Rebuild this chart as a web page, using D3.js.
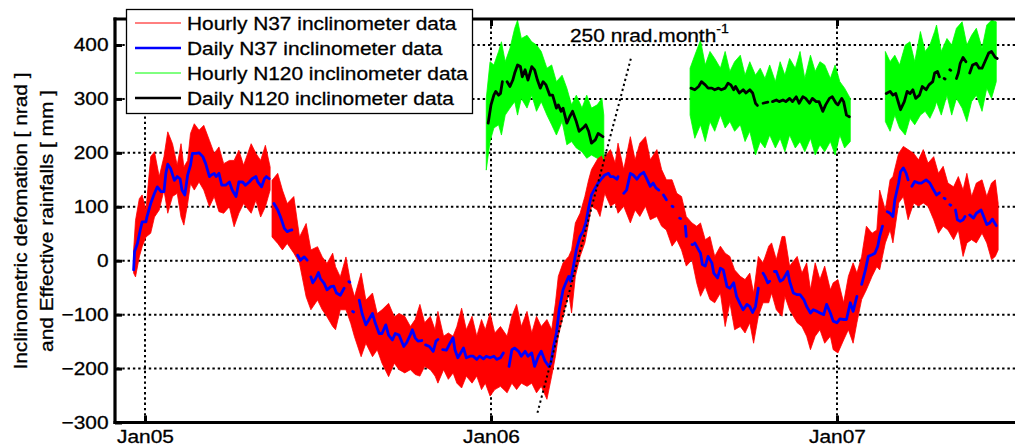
<!DOCTYPE html>
<html><head><meta charset="utf-8">
<script src="https://cdn.jsdelivr.net/npm/d3@7"></script>
<style>
body{margin:0;background:#fff}
svg text{font-family:"Liberation Sans",Arial,Helvetica,sans-serif;fill:#000;stroke:#000;stroke-width:0.3px}
</style>
</head><body>
<svg id="chart" width="1015" height="448"></svg>
<script>
// ---------------- DATA (day = days since 2005-01-01) ----------------
const yTicks = [-300, -200, -100, 0, 100, 200, 300, 400];
const xTickDates = ["2005-01-01", "2006-01-01", "2007-01-01"];
const xTickLabels = ["Jan05", "Jan06", "Jan07"];
const legendLabels = ["Hourly N37 inclinometer data", "Daily N37 inclinometer data",
                      "Hourly N120 inclinometer data", "Daily N120 inclinometer data"];
const yLabelLines = ["Inclinometric defomation [ nrad ]", "and Effective rainfalls [ mm ]"];
const trendLabel = "250 nrad.month";
const trendLabelSup = "-1";

// Hourly N37: [day, low, high] envelope of the hourly signal (null = gap)
const hourlyN37 = [
[-12,-23,20],[-10,-30,75],[-6,7,115],[-3,26,122],[1,44,94],[6,51,193],[10,81,202],[15,94,156],
[20,131,193],[24,88,239],[29,119,217],[34,125,177],[38,81,217],[41,66,174],[45,106,186],[48,143,236],
[52,131,254],[57,146,242],[62,131,251],[68,100,223],[73,119,199],[78,91,211],[83,88,180],[89,100,186],
[94,63,186],[99,88,205],[104,106,177],[112,88,217],[117,112,199],[122,81,186],[127,100,214],[132,131,174],
null,
[134,44,149],[140,32,162],[145,20,131],[150,32,106],[157,14,119],[163,-5,44],[170,-67,69],[175,-91,20],
[182,-73,26],[187,-91,7],[192,-104,-5],[198,-122,14],[201,-128,-11],[206,-91,-30],[212,-91,7],[217,-116,-42],
[221,-141,-67],[228,-178,-23],[233,-153,-73],[240,-178,-60],[245,-165,-98],[250,-190,-91],[257,-215,-79],
[263,-190,-104],[268,-202,-98],[274,-208,-103],[280,-202,-122],[285,-211,-109],[290,-214,-81],[295,-196,-115],
[301,-202,-103],[306,-214,-128],[309,-227,-94],[315,-202,-140],[320,-220,-134],[325,-208,-140],[329,-227,-122],
[334,-236,-88],[339,-214,-128],[345,-227,-103],[350,-214,-140],[355,-239,-109],[359,-227,-128],[364,-251,-97],
[369,-239,-134],[375,-233,-122],[382,-245,-140],[387,-227,-103],[392,-239,-81],[397,-227,-122],[403,-233,-94],
[408,-227,-134],[413,-245,-103],[418,-233,-122],[424,-257,-109],[429,-214,-128],[433,-177,-78],[436,-140,-29],
[441,-103,-4],[447,-60,8],[450,-97,20],[454,-29,70],[459,8,88],[464,33,119],[468,70,150],[471,101,169],
[477,94,187],[480,82,199],[485,125,193],[491,101,206],[496,107,181],[499,88,218],[505,101,169],[512,70,230],
[517,94,187],[522,82,218],[528,101,230],[533,76,187],[540,82,206],[545,64,169],[550,57,150],[556,27,150],
[561,39,125],[566,20,119],[571,-10,82],[577,2,70],[582,-41,64],[586,-66,70],[591,-48,39],[596,-72,45],
[601,-78,8],[607,-60,27],[612,-122,14],[617,-78,8],[622,-128,-17],[628,-122,-29],[633,-134,-35],[638,-115,-23],
[642,-153,-60],[647,-103,8],[652,-78,-4],[658,-78,27],[661,-60,33],[666,-91,2],[672,-103,45],[675,-66,45],
[680,-91,-10],[688,-115,8],[693,-122,-23],[698,-140,-4],[702,-165,-54],[707,-140,-4],[712,-128,-35],[717,-153,-10],
[723,-140,-54],[726,-165,-41],[731,-171,-35],[737,-147,-78],[742,-128,-29],[747,-153,-4],[751,-115,-23],[756,-72,8],
[761,-54,64],[767,-29,51],[772,-11,57],[775,-17,131],[781,33,94],[786,57,150],[789,33,156],[795,107,199],
[800,119,212],[805,76,206],[811,107,199],[816,101,187],[821,107,206],[826,101,181],[832,76,193],[837,51,162],
[842,64,175],[847,57,144],[853,39,137],[858,57,156],[863,8,131],[867,33,162],[872,39,119],[877,33,144],
[883,51,150],[888,33,119],[893,2,144],[897,8,150],[900,20,107]
];

// Daily N37: [day, value] (null = gap)
const dailyN37 = [
[-12,-17],[-11,17],[-8,32],[-5,57],[-3,72],[1,72],[2,81],[6,106],[10,125],[13,137],[17,128],[20,128],[22,162],
[24,179],[27,171],[31,149],[34,156],[37,152],[39,131],[42,122],[45,159],[48,177],[50,199],[54,199],[57,200],
[61,193],[64,180],[68,156],[70,159],[73,162],[75,156],[78,162],[81,140],[85,140],[89,146],[92,131],[96,119],
[99,146],[103,146],[106,140],[110,146],[113,152],[117,156],[119,146],[123,137],[126,152],[128,156],[131,152],
null,[136,106],[140,94],[143,81],[147,60],[150,54],[154,57],[155,57],
null,[161,10],[164,1],[168,7],[171,1],
null,[175,-30],[177,-41],[180,-33],[183,-22],[185,-33],[189,-42],[192,-54],[196,-48],[199,-47],[202,-60],[206,-64],[210,-51],
null,[215,-39],[216,-40],
null,[219,-94],[220,-95],
null,[226,-73],[229,-98],[233,-119],[236,-110],[240,-98],[243,-116],[247,-135],[250,-135],[254,-119],[257,-138],
[261,-147],[264,-135],[268,-138],[273,-159],[276,-152],[280,-137],[282,-128],[285,-143],[288,-149],[292,-148],
null,[296,-156],[300,-159],[304,-168],[307,-149],[309,-146],
null,[314,-165],[318,-166],[322,-152],[325,-143],[327,-165],[330,-180],[333,-171],[336,-162],[339,-180],[343,-177],
[346,-177],[350,-183],[353,-177],[357,-182],[360,-177],[364,-180],[368,-177],[371,-183],[375,-180],[378,-171],
null,[384,-196],[387,-165],[390,-162],[394,-168],[397,-177],[401,-168],[404,-177],[408,-171],[411,-196],[415,-177],
[418,-168],[422,-186],[426,-196],[428,-190],[431,-159],[434,-134],[437,-91],[441,-54],[444,-41],[447,-29],[449,-38],
[452,-10],[455,20],[459,45],[462,54],[465,70],[468,98],[471,122],[475,135],[478,144],[482,153],[485,159],[489,162],
[491,156],[494,156],[498,151],[499,156],
null,[505,125],[508,131],[512,162],[515,159],[519,151],[522,159],[526,164],[529,153],[533,138],[536,144],[539,135],[542,131],
null,[547,122],[550,113],
null,[556,101],[557,100],
null,[564,79],[565,78],
null,[570,64],[571,45],
null,[577,30],[578,30],
null,[580,33],[584,20],[586,14],[588,-7],[591,-10],[594,8],[598,-4],[600,-23],[604,-32],[607,-14],[610,-17],[614,-48],
[617,-51],[621,-41],[624,-66],[628,-81],[631,-91],[635,-81],[638,-85],[641,-96],[644,-85],[647,-51],
null,[652,-23],[654,-29],[657,-41],[659,-38],
null,[664,-20],[666,-20],[670,-38],[673,-35],[678,-20],[680,-38],[684,-60],[688,-63],[691,-63],[695,-72],[698,-85],
[702,-97],[705,-91],[709,-94],[712,-97],[716,-100],[719,-81],[723,-97],[726,-112],[730,-115],[733,-108],[737,-109],
[740,-109],[744,-78],[747,-94],[751,-66],
null,[756,-44],[760,-17],[763,8],[767,11],[770,14],[773,27],[775,45],[778,64],
null,[783,91],[786,88],[789,82],[791,113],[795,144],[797,165],[800,172],[803,162],[805,150],
null,[809,138],[812,147],[816,144],[819,144],[824,150],[828,144],[832,131],[835,122],[838,126],
null,[843,116],[844,115],
null,[849,104],[850,103],
null,[855,94],[857,76],[860,73],[863,76],[865,82],
null,[870,85],[874,79],[877,88],[882,94],[884,85],[888,67],[891,70],[894,77],[898,65]
];

// Hourly N120: [day, low, high]
const hourlyN120 = [
[360,168,301],[364,221,369],[368,246,363],[373,252,388],[376,233,406],[380,270,369],[385,283,394],[390,295,431],
[393,270,446],[397,301,412],[403,283,418],[408,307,406],[413,277,400],[418,295,388],[424,270,357],[429,252,363],
[434,233,332],[440,258,344],[445,215,320],[450,221,289],[455,209,307],[461,202,283],[466,190,307],[471,196,283],
[477,190,289],[482,196,301],[484,187,270],
null,
[575,270,357],[580,227,381],[586,252,409],[591,221,363],[596,258,388],[601,240,375],[607,270,357],[612,246,388],
[617,258,351],[622,240,369],[628,252,381],[633,221,344],[638,240,369],[644,196,344],[649,221,357],[654,209,338],
[659,233,363],[665,209,332],[670,227,369],[675,202,344],[680,233,375],[686,209,357],[691,221,388],[696,202,338],
[702,227,381],[707,196,351],[712,215,369],[717,202,363],[723,221,338],[728,196,363],[733,233,332],[738,209,320],
[744,221,301],
null,
[781,258,388],[786,240,369],[791,270,381],[796,246,363],[802,233,400],[807,264,406],[812,252,369],[818,270,425],
[823,277,388],[828,264,400],[833,283,425],[835,295,437],[840,270,388],[846,307,412],[851,270,400],[856,301,431],
[862,283,443],[867,258,400],[872,295,418],[877,307,431],[883,277,394],[888,320,437],[893,301,446],[898,332,443]
];

// Daily N120: [day, value]
const dailyN120 = [
[362,255],[365,289],[368,307],[370,314],[373,307],[375,310],[377,332],
null,[382,332],[385,323],[388,335],[390,348],[393,363],[396,360],[398,341],[401,354],[404,335],[408,360],[411,354],
[414,335],[417,320],[420,332],[423,326],[427,307],[430,307],[434,283],[436,289],[439,277],[441,283],[445,255],
[448,267],[451,277],[455,258],[458,240],[462,246],[465,252],[468,240],[471,218],[475,224],[478,236],[483,230],
null,[576,320],[580,317],[584,323],[587,332],[591,326],[594,320],[598,320],[601,317],[605,320],[608,317],[612,320],
[615,329],[618,326],[621,317],[623,323],[627,311],[631,317],[634,311],[638,317],[641,311],[644,292],[646,288],
null,[652,292],[657,294],
null,[662,295],[666,298],[669,295],[673,298],[676,295],[680,301],[683,295],[687,304],[690,292],[694,304],[697,301],
[701,292],[704,301],[708,295],[711,295],[715,277],[718,289],[722,301],[725,304],[729,292],[731,289],[735,301],
[737,295],[740,270],[743,267],
null,[782,310],[786,314],[789,307],[792,310],[795,292],[797,280],[801,295],[804,314],[807,310],[810,317],[813,301],
[817,307],[820,323],[824,317],[827,326],[831,332],[833,348],[836,351],[838,341],
null,[843,338],[844,337],
null,[849,354],[850,353],
null,[856,338],[858,348],[860,366],[863,377],[866,369],
null,[870,348],[873,363],[877,366],[880,357],[883,357],[886,369],[890,385],[893,388],[897,377],[899,375]
];

// Dotted trend line (250 nrad/month label): [day, value]
const trendLine = [[414,-282],[513,378]];

// ---------------- DRAWING ----------------
const T0 = Date.UTC(2005,0,1);
const toDate = d => new Date(T0 + d*86400000);
const parse = d3.utcParse("%Y-%m-%d");

const L = 114, R = 1030, T = 19, B = 422.5;
const SX = 1.13; // horizontal glyph stretch
const FS = 18.5;

const svg = d3.select("#chart");
const x = d3.scaleUtc().domain([toDate(0), toDate(730)]).range([145, 837]);
const y = d3.scaleLinear().domain([-300, 400]).range([422.5, 45]);

svg.append("defs").append("clipPath").attr("id","clip")
  .append("rect").attr("x",L).attr("y",T).attr("width",R-L).attr("height",B-T);

// grid
const grid = svg.append("g").attr("stroke","#000").attr("stroke-width",2).attr("stroke-dasharray","2.4,2.9");
grid.selectAll("line.h").data(yTicks.filter(v=>v>-300)).join("line").attr("class","h")
  .attr("x1",L+3).attr("x2",R).attr("y1",d=>y(d)).attr("y2",d=>y(d));
grid.selectAll("line.v").data(xTickDates.map(parse)).join("line").attr("class","v")
  .attr("y1",T+2).attr("y2",B).attr("x1",d=>x(d)).attr("x2",d=>x(d));

const plot = svg.append("g").attr("clip-path","url(#clip)");

const band = d3.area().defined(d=>d!==null)
  .x(d=>x(toDate(d[0]))).y0(d=>y(d[1])).y1(d=>y(d[2]));
const line = d3.line().defined(d=>d!==null)
  .x(d=>x(toDate(d[0]))).y(d=>y(d[1]));

plot.append("path").datum(hourlyN37).attr("d",band).attr("fill","#ff0000").attr("stroke","#ff0000").attr("stroke-width",0.8);
plot.append("path").datum(dailyN37).attr("d",line).attr("fill","none").attr("stroke","#0000ff")
  .attr("stroke-width",2.8).attr("stroke-linejoin","round").attr("stroke-linecap","round");
plot.append("path").datum(hourlyN120).attr("d",band).attr("fill","#00ff00").attr("stroke","#00ff00").attr("stroke-width",0.8);
plot.append("path").datum(dailyN120).attr("d",line).attr("fill","none").attr("stroke","#000")
  .attr("stroke-width",2.8).attr("stroke-linejoin","round").attr("stroke-linecap","round");
plot.append("path").datum(trendLine).attr("d",line).attr("fill","none").attr("stroke","#000")
  .attr("stroke-width",2).attr("stroke-dasharray","2.2,3");

// axes
const axL = svg.append("g").attr("transform",`translate(${L+1},0)`)
  .call(d3.axisLeft(y).tickValues(yTicks).tickSize(-7).tickPadding(6.5));
const axB = svg.append("g").attr("transform",`translate(0,${B})`)
  .call(d3.axisBottom(x).tickValues(xTickDates.map(parse)).tickFormat((d,i)=>xTickLabels[i]).tickSize(-7).tickPadding(7));
const axT = svg.append("g").attr("transform",`translate(0,${T})`)
  .call(d3.axisTop(x).tickValues(xTickDates.map(parse)).tickFormat("").tickSize(-7));
[axL,axB,axT].forEach(a=>{
  a.select(".domain").remove();
  a.selectAll(".tick line").attr("stroke","#000").attr("stroke-width",3);
  a.selectAll("text").attr("font-size",FS).attr("fill","#000")
    .attr("font-family",'"Liberation Sans",Arial,sans-serif').attr("transform",`scale(${SX},1)`);
});
axL.selectAll("text").attr("x",-6.5/SX);
// frame
const frame = svg.append("g").attr("stroke","#000").attr("stroke-width",3.2).attr("fill","none");
frame.append("line").attr("x1",L+1).attr("x2",L+1).attr("y1",T-1.5).attr("y2",B+1.5);
frame.append("line").attr("x1",L-0.5).attr("x2",R).attr("y1",B).attr("y2",B);
frame.append("line").attr("x1",L-0.5).attr("x2",R).attr("y1",T).attr("y2",T);

// y label
const yl = svg.append("g");
yLabelLines.forEach((t,i)=>{
  yl.append("text").attr("transform",`translate(${[27,53][i]},221) rotate(-90) scale(${SX},1)`)
    .attr("text-anchor","middle").attr("font-size",FS).text(t);
});

// trend annotation
const ann = svg.append("text").attr("transform",`translate(570,42) scale(${SX},1)`).attr("font-size",FS);
ann.append("tspan").text(trendLabel);
ann.append("tspan").attr("font-size",12.5).attr("dy",-9).text(trendLabelSup);

// legend
const leg = svg.append("g");
leg.append("rect").attr("x",126.5).attr("y",9.5).attr("width",346).attr("height",104)
  .attr("fill","#fff").attr("stroke","#000").attr("stroke-width",1.3);
const legStyles = [{c:"#ff0000",w:1},{c:"#0000ff",w:2.6},{c:"#00ff00",w:1},{c:"#000",w:2.6}];
const rows = leg.selectAll("g.row").data(legendLabels).join("g").attr("class","row")
  .attr("transform",(d,i)=>`translate(0,${23+25*i})`);
rows.append("line").attr("x1",135).attr("x2",181).attr("y1",0).attr("y2",0)
  .attr("stroke",(d,i)=>legStyles[i].c).attr("stroke-width",(d,i)=>legStyles[i].w);
rows.append("text").attr("transform",`translate(187,6.6) scale(${SX},1)`).attr("font-size",FS).text(d=>d);
</script>
</body></html>
